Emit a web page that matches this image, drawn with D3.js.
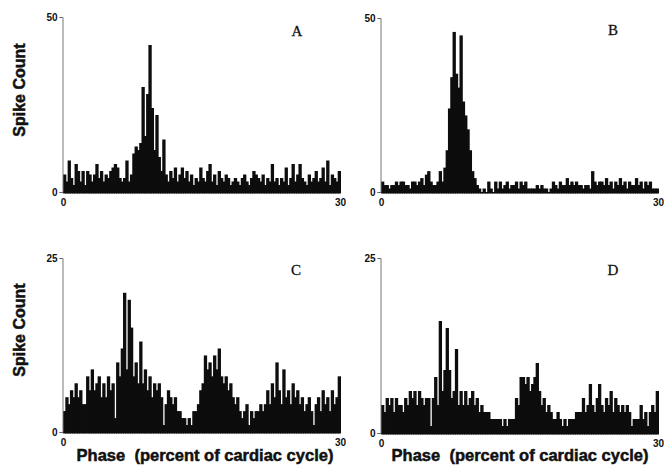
<!DOCTYPE html>
<html><head><meta charset="utf-8">
<script src="https://cdn.jsdelivr.net/npm/d3@7/dist/d3.min.js"></script>
<style>
body{margin:0;background:#fff;}
svg{display:block;}
</style></head>
<body>
<svg id="chart" width="664" height="469"></svg>
<script>
// Phase range (percent of cardiac cycle) and y maxima
const phaseTicks = [0, 30];
const topTicks = [0, 50];
const bottomTicks = [0, 25];
const panelLetters = ["A", "B", "C", "D"];

// Spike counts per bin (120 bins of 0.25 % each)
const countsA = [5,3,9,4,2,8,6,3,6,2,6,5,3,5,8,4,6,3,5,4,6,7,8,7,4,3,4,9,3,5,
  11,13,12,14,30,16,28,42,24,12,22,10,6,15,5,3,6,4,7,3,5,7,4,6,3,5,2,4,3,7,
  4,3,6,8,3,5,2,6,4,3,5,4,2,3,4,3,2,4,5,3,2,4,6,5,4,3,5,2,4,3,
  8,3,4,2,4,3,7,2,4,8,3,5,8,4,3,2,5,3,4,6,3,4,7,3,9,2,5,4,3,6];
const countsB = [3,2,2,1,2,2,3,2,3,3,2,2,1,3,3,2,3,4,2,5,6,3,2,2,3,6,3,
  7,12,24,33,46,34,30,45,26,22,18,12,6,4,2,
  1,0,1,0,3,1,0,3,1,3,1,2,3,1,2,2,3,1,3,2,3,1,1,1,1,2,1,2,1,1,0,1,3,2,1,3,2,2,
  4,2,3,2,3,2,2,1,2,2,1,6,3,2,3,3,2,4,2,3,1,3,2,4,2,3,1,3,2,2,4,2,3,1,3,2,3,1,1,1];
const countsC = [3,5,4,6,5,7,5,6,4,4,8,6,9,6,7,8,5,7,5,8,6,7,2,10,8,12,20,9,19,15,
  8,10,7,13,7,9,6,8,5,7,6,7,5,1,4,6,5,4,5,3,3,2,2,1,2,1,3,3,4,6,
  7,11,9,10,8,11,9,12,8,7,8,6,7,5,4,5,3,2,3,4,1,3,2,3,3,4,3,4,6,4,
  7,5,10,6,4,9,5,6,4,7,5,6,4,5,3,4,5,3,1,4,5,3,6,4,5,3,6,4,5,8];
const countsD = [4,3,5,4,5,3,5,4,4,3,5,4,6,5,6,4,6,5,4,5,5,1,5,8,4,16,6,9,15,9,
  5,6,12,4,6,4,6,4,5,6,4,5,3,4,3,3,3,2,2,2,2,2,1,2,1,2,2,2,5,4,
  8,8,7,8,6,7,8,10,6,4,5,3,4,3,2,2,3,2,1,2,1,2,2,2,3,3,3,5,3,4,
  7,4,3,5,7,4,3,5,4,6,3,5,4,3,4,3,4,3,1,2,2,2,4,2,3,1,3,4,3,6];

const panels = [
  {data: countsA, letter: panelLetters[0], yt: topTicks,    x0: 63,  x1: 340, y0: 192, y1: 17,  lx: 297, ly: 36},
  {data: countsB, letter: panelLetters[1], yt: topTicks,    x0: 381, x1: 658, y0: 192, y1: 18,  lx: 613, ly: 35},
  {data: countsC, letter: panelLetters[2], yt: bottomTicks, x0: 63,  x1: 340, y0: 432, y1: 258, lx: 296, ly: 275},
  {data: countsD, letter: panelLetters[3], yt: bottomTicks, x0: 381, x1: 658, y0: 433, y1: 258, lx: 613, ly: 275}
];

const svg = d3.select("#chart");
const tickFont = "'Liberation Sans', Arial, sans-serif";

panels.forEach(p => {
  const n = p.data.length;
  const binW = (phaseTicks[1] - phaseTicks[0]) / n;
  const x = d3.scaleLinear().domain(phaseTicks).range([p.x0, p.x1]);
  const y = d3.scaleLinear().domain([0, p.yt[1]]).range([p.y0, p.y1]);
  const g = svg.append("g");

  // bars
  const w = x(binW) - x(0);
  g.selectAll("rect.bar").data(p.data).join("rect")
    .attr("class", "bar")
    .attr("x", (d, i) => x(i * binW))
    .attr("width", w + 1)
    .attr("y", d => y(d))
    .attr("height", d => y(0) - y(d) + 1.5)
    .attr("fill", "#0d0d0d");

  // y axis
  const ya = d3.axisLeft(y).tickValues(p.yt).tickSize(3).tickPadding(2).tickFormat(d3.format("d"));
  const yg = g.append("g").attr("transform", `translate(${p.x0 - 0.5},0)`).call(ya);
  yg.select(".domain").attr("stroke", "#777").attr("stroke-width", 1);
  yg.selectAll(".tick line").attr("stroke", "#666");
  yg.selectAll(".tick text").attr("font-family", tickFont).attr("font-size", 10)
    .attr("font-weight", "bold").attr("fill", "#111");

  // x tick labels
  const xa = d3.axisBottom(x).tickValues(phaseTicks).tickSize(0).tickPadding(7).tickFormat(d3.format("d"));
  const xg = g.append("g").attr("transform", `translate(0,${p.y0})`).call(xa);
  xg.select(".domain").remove();
  xg.selectAll(".tick text").attr("font-family", tickFont).attr("font-size", 10)
    .attr("font-weight", "bold").attr("fill", "#111");

  // panel letter
  g.append("text").attr("x", p.lx).attr("y", p.ly).attr("text-anchor", "middle")
    .attr("font-family", "'Liberation Serif', 'Times New Roman', serif")
    .attr("font-size", 15).attr("fill", "#111")
    .attr("stroke", "#111").attr("stroke-width", 0.3).text(p.letter);
});

// y axis titles
[90, 330].forEach(cy => {
  svg.append("text").attr("transform", `translate(25,${cy}) rotate(-90)`)
    .attr("text-anchor", "middle").attr("font-family", tickFont)
    .attr("font-weight", "bold").attr("font-size", 16).attr("fill", "#111")
    .attr("stroke", "#111").attr("stroke-width", 0.5)
    .text("Spike Count");
});
// x axis titles
[205, 520].forEach(cx => {
  svg.append("text").attr("x", cx).attr("y", 461).attr("text-anchor", "middle")
    .attr("font-family", tickFont).attr("font-weight", "bold").attr("font-size", 16.5)
    .attr("fill", "#111").attr("stroke", "#111").attr("stroke-width", 0.5)
    .style("white-space", "pre")
    .text("Phase  (percent of cardiac cycle)");
});
</script>
</body></html>
